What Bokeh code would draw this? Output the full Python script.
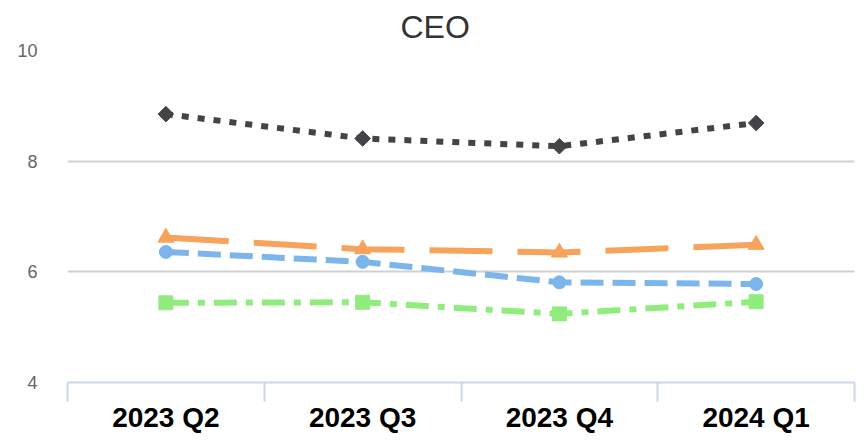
import math
from bokeh.plotting import figure
from bokeh.models import Range1d, FixedTicker, LinearAxis, Title
from bokeh.embed import file_html
from bokeh.resources import INLINE

quarters = ["2023 Q2", "2023 Q3", "2023 Q4", "2024 Q1"]
series_blue = [6.36, 6.18, 5.81, 5.78]
series_dark = [8.85, 8.41, 8.27, 8.69]
series_green = [5.44, 5.45, 5.24, 5.46]
series_orange = [6.62, 6.41, 6.35, 6.49]
y_ticks = [4, 6, 8, 10]

FONT = "Liberation Sans"

xs = [i + 0.5 for i in range(len(quarters))]
bounds = [float(i) for i in range(len(quarters) + 1)]

p = figure(width=860, height=436, output_backend="svg", toolbar_location=None,
           x_range=Range1d(0, len(quarters)), y_range=Range1d(4, 10),
           x_axis_type=None, min_border_left=67, min_border_right=6,
           min_border_top=49, min_border_bottom=54)
p.outline_line_color = None
p.background_fill_color = "white"
p.border_fill_color = "white"

p.title = Title(text="CEO", align="left", text_font=FONT, text_font_size="32px",
                text_font_style="normal", text_color="#333333", standoff=12, offset=333)

# x axis with boundary ticks
xa = LinearAxis(ticker=FixedTicker(ticks=xs, minor_ticks=bounds))
xa.major_label_overrides = {x: q for x, q in zip(xs, quarters)}
xa.axis_line_color = "#ccd6eb"
xa.axis_line_width = 2
xa.major_tick_line_color = None
xa.major_tick_out = 0
xa.major_tick_in = 0
xa.minor_tick_line_color = "#ccd6eb"
xa.minor_tick_line_width = 2
xa.minor_tick_out = 19
xa.minor_tick_in = 0
xa.major_label_standoff = 0
xa.major_label_text_font = FONT
xa.major_label_text_font_size = "28px"
xa.major_label_text_font_style = "bold"
xa.major_label_text_color = "#000000"
p.add_layout(xa, "below")

# y axis
ya = p.yaxis[0]
ya.ticker = FixedTicker(ticks=y_ticks)
ya.axis_line_color = None
ya.major_tick_line_color = None
ya.minor_tick_line_color = None
ya.major_tick_out = 0
ya.major_label_standoff = 30
ya.major_label_text_font = FONT
ya.major_label_text_font_size = "18px"
ya.major_label_text_color = "#666666"

p.xgrid.visible = False
p.ygrid.grid_line_color = "#d0d0d0"
p.ygrid.grid_line_width = 2
p.ygrid.ticker = FixedTicker(ticks=y_ticks)

LW = 6
# blue dashed circles
p.line(xs, series_blue, line_color="#7cb5ec", line_width=LW, line_dash="23 9")
p.scatter(xs, series_blue, marker="circle", size=13, fill_color="#7cb5ec", line_color="#7cb5ec")
# dark dotted diamonds
p.line(xs, series_dark, line_color="#434348", line_width=LW, line_dash="7 9")
p.scatter(xs, series_dark, marker="square", angle=math.pi / 4, size=11,
          fill_color="#434348", line_color="#434348")
# green dash-dot squares
p.line(xs, series_green, line_color="#90ed7d", line_width=LW, line_dash="23 9 7 9")
p.scatter(xs, series_green, marker="square", size=14, fill_color="#90ed7d", line_color="#90ed7d")
# orange long dash triangles
p.line(xs, series_orange, line_color="#f7a35c", line_width=LW, line_dash="63 25")
p.scatter(xs, series_orange, marker="triangle", size=16, fill_color="#f7a35c", line_color="#f7a35c")

open("out.html", "w").write(file_html(p, INLINE))
